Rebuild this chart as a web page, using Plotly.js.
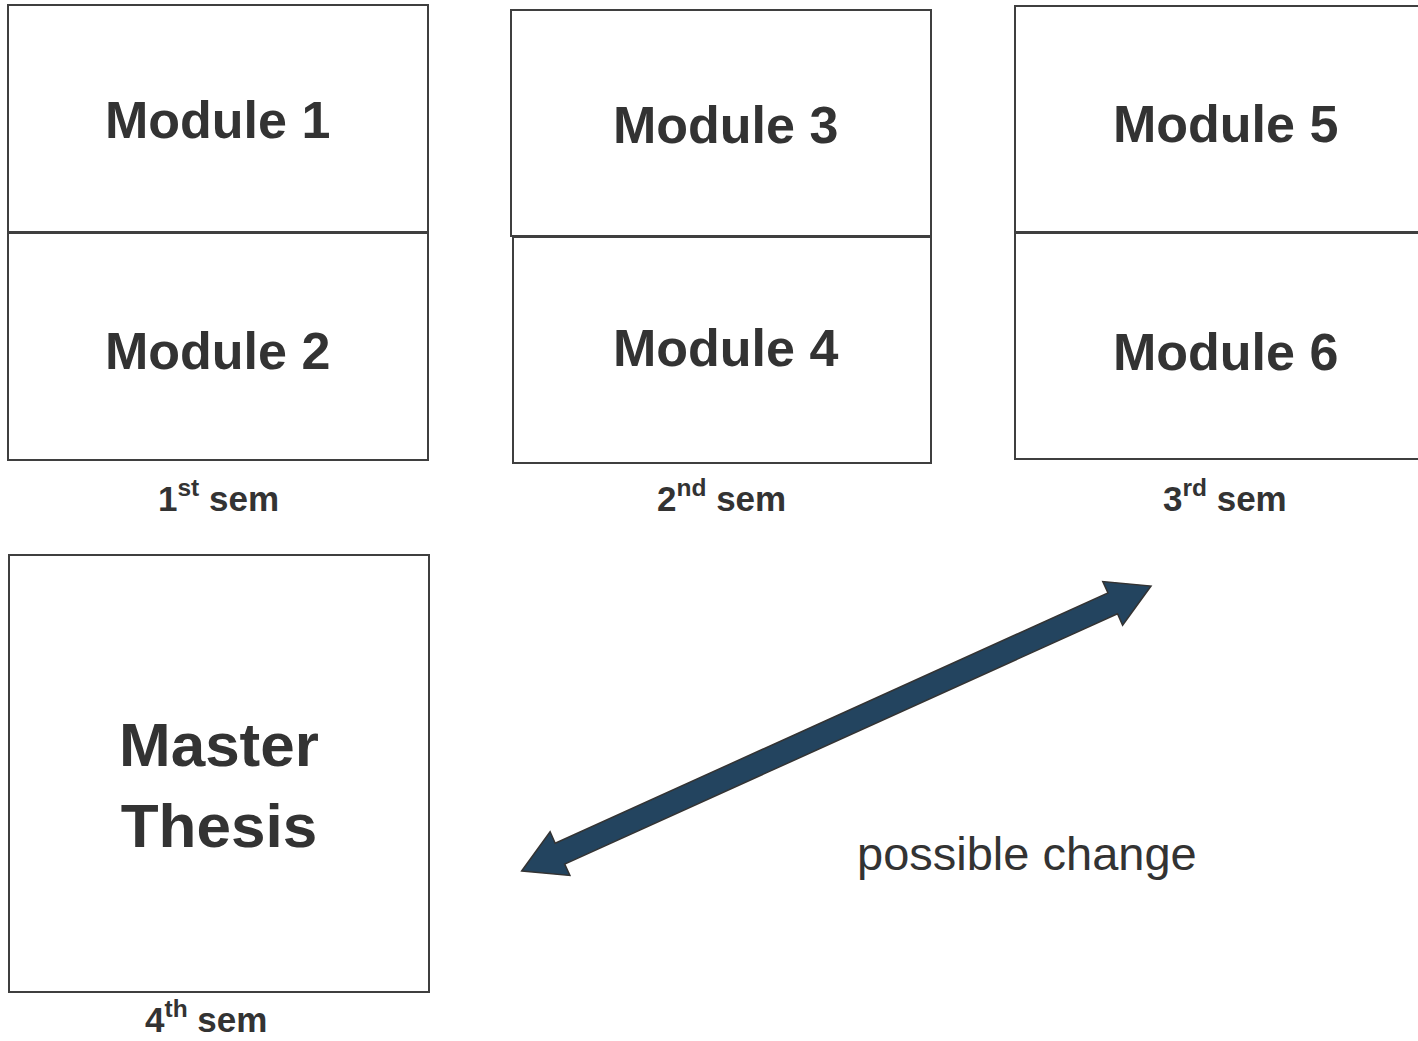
<!DOCTYPE html>
<html>
<head>
<meta charset="utf-8">
<script src="https://cdn.plot.ly/plotly-3.0.1.min.js"></script>
<style>html,body{margin:0;padding:0;background:#fff;}#chart{width:1418px;height:1041px;}</style>
</head>
<body>
<div id="chart"></div>
<script>
// Diagram content
const boxLabels = ["Module 1", "Module 2", "Module 3", "Module 4", "Module 5", "Module 6", "Master<br>Thesis"];
const boxX0 = [8, 8, 511, 513, 1015, 1015, 9];
const boxX1 = [428, 428, 931, 931, 1430, 1430, 429];
const boxY0 = [5, 233, 10, 237, 6, 233, 555];
const boxY1 = [232, 460, 236, 463, 232, 459, 992];
const labelX = [217, 217, 725, 725, 1225, 1225, 219];
const labelY = [120, 351, 125, 348, 124, 352, 785];

const semLabels = ["1<sup>st</sup> sem", "2<sup>nd</sup> sem", "3<sup>rd</sup> sem", "4<sup>th</sup> sem"];
const semX = [218, 721, 1225, 206];
const semY = [496, 496, 496, 1041];

const arrowTipsX = [521.7, 1151];
const arrowTipsY = [871, 586];
const noteText = "possible change";
const noteX = 1027;
const noteY = 853;

const textColor = "#333333";
const boxLine = "#3f3f3f";
const arrowFill = "#23445f";

function arrowPath(ax, ay, bx, by, shaftHW, headHW, headLen) {
  const dx = bx - ax, dy = by - ay;
  const L = Math.hypot(dx, dy);
  const ux = dx / L, uy = dy / L;
  const nx = -uy, ny = ux;
  const p = [];
  p.push([ax, ay]);
  p.push([ax + headLen * ux + headHW * nx, ay + headLen * uy + headHW * ny]);
  p.push([ax + headLen * ux + shaftHW * nx, ay + headLen * uy + shaftHW * ny]);
  p.push([bx - headLen * ux + shaftHW * nx, by - headLen * uy + shaftHW * ny]);
  p.push([bx - headLen * ux + headHW * nx, by - headLen * uy + headHW * ny]);
  p.push([bx, by]);
  p.push([bx - headLen * ux - headHW * nx, by - headLen * uy - headHW * ny]);
  p.push([bx - headLen * ux - shaftHW * nx, by - headLen * uy - shaftHW * ny]);
  p.push([ax + headLen * ux - shaftHW * nx, ay + headLen * uy - shaftHW * ny]);
  p.push([ax + headLen * ux - headHW * nx, ay + headLen * uy - headHW * ny]);
  return "M" + p.map(q => q[0].toFixed(1) + "," + q[1].toFixed(1)).join(" L") + " Z";
}

const shapes = boxLabels.map((_, i) => ({
  type: "rect", xref: "x", yref: "y",
  x0: boxX0[i], x1: boxX1[i], y0: boxY0[i], y1: boxY1[i],
  line: {color: boxLine, width: 2}, fillcolor: "rgba(0,0,0,0)"
}));
shapes.push({
  type: "path", xref: "x", yref: "y",
  path: arrowPath(arrowTipsX[0], arrowTipsY[0], arrowTipsX[1], arrowTipsY[1], 11.5, 24, 42),
  fillcolor: arrowFill, line: {color: "#333333", width: 1.5}
});

const boldFont = "Liberation Sans, Arial, Helvetica, sans-serif";
const annotations = [];
boxLabels.forEach((t, i) => {
  annotations.push({
    x: labelX[i], y: labelY[i], xref: "x", yref: "y", text: "<b>" + t + "</b>", showarrow: false,
    xanchor: "center", yanchor: "middle",
    font: {family: boldFont, size: i === 6 ? 62 : 52, color: textColor}
  });
});
semLabels.forEach((t, i) => {
  annotations.push({
    x: semX[i], y: semY[i], xref: "x", yref: "y", text: "<b>" + t + "</b>", showarrow: false,
    xanchor: "center", yanchor: i === 3 ? "bottom" : "middle",
    font: {family: boldFont, size: 35, color: textColor}
  });
});
annotations.push({
  x: noteX, y: noteY, xref: "x", yref: "y", text: noteText, showarrow: false,
  xanchor: "center", yanchor: "middle",
  font: {family: "Liberation Sans, Arial, sans-serif", size: 47, color: textColor}
});

const layout = {
  width: 1418, height: 1041,
  margin: {l: 0, r: 0, t: 0, b: 0, pad: 0},
  paper_bgcolor: "#ffffff", plot_bgcolor: "#ffffff",
  xaxis: {range: [0, 1418], visible: false, fixedrange: true},
  yaxis: {range: [1041, 0], visible: false, fixedrange: true},
  showlegend: false,
  shapes: shapes,
  annotations: annotations
};

Plotly.newPlot("chart", [], layout, {staticPlot: true, displayModeBar: false});
</script>
</body>
</html>
